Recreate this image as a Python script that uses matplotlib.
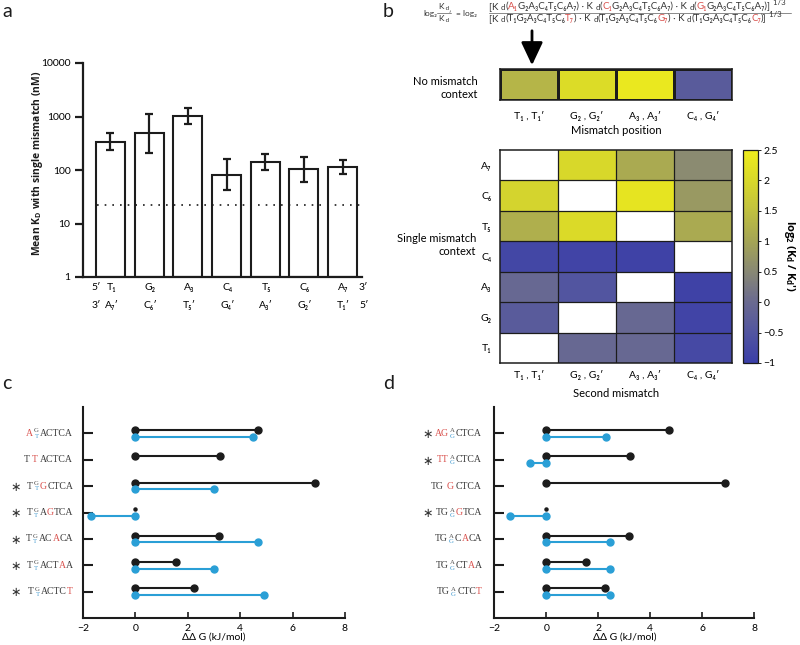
import numpy as np
import matplotlib
matplotlib.use('Agg')
import matplotlib.pyplot as plt
from matplotlib.colors import LinearSegmentedColormap, Normalize
from matplotlib.transforms import IdentityTransform, blended_transform_factory
from matplotlib.patches import FancyArrowPatch
from matplotlib.lines import Line2D
from matplotlib.ticker import NullLocator

plt.rcParams['font.family'] = ['Lato', 'DejaVu Sans']
plt.rcParams['mathtext.fontset'] = 'custom'
plt.rcParams['mathtext.rm'] = 'Open Sans'
plt.rcParams['mathtext.bf'] = 'Open Sans:bold'
plt.rcParams['mathtext.it'] = 'Open Sans:italic'

# ---------------- data ----------------
# panel a
pos_top = ['T₁', 'G₂', 'A₃', 'C₄', 'T₅', 'C₆', 'A₇']
pos_bot = ['A₇′', 'C₆′', 'T₅′', 'G₄′', 'A₃′', 'G₂′', 'T₁′']
kd_mean = [338, 485, 1035, 81, 141, 103, 113]
kd_upper = [500, 1100, 1450, 158, 196, 172, 154]
kd_lower = [237, 210, 724, 42, 100, 60, 85]
kd_ref = 22
a_yticks = [1, 10, 100, 1000, 10000]

# panel b
col_labels = ['T₁ , T₁′', 'G₂ , G₂′', 'A₃ , A₃′', 'C₄ , G₄′']
row_labels = ['A₇', 'C₆', 'T₅', 'C₄', 'A₃', 'G₂', 'T₁']
no_mismatch = [1.3, 2.1, 2.4, -0.35]
nan = np.nan
pair_vals = [
    [nan, 2.0, 1.1, 0.55],
    [1.9, nan, 2.3, 0.8],
    [1.2, 2.05, nan, 1.1],
    [-0.8, -0.85, -0.9, nan],
    [-0.05, -0.5, nan, -0.9],
    [-0.35, nan, -0.05, -0.85],
    [nan, -0.05, -0.05, -0.75],
]
cb_ticks = [-1, -0.5, 0, 0.5, 1, 1.5, 2, 2.5]
cb_ticklabels = ['−1', '−0.5', '0', '0.5', '1', '1.5', '2', '2.5']

# panel c / d
c_black = [4.69, 3.23, 6.86, 0.0, 3.19, 1.54, 2.24]
c_blue = [4.49, nan, 3.01, -1.71, 4.67, 3.0, 4.9]
d_black = [4.7, 3.23, 6.87, 0.0, 3.18, 1.54, 2.27]
d_blue = [2.31, -0.61, nan, -1.40, 2.44, 2.44, 2.44]
c_star = [False, False, True, True, True, True, True]
d_star = [True, True, False, True, False, False, False]
R, K, B = 'r', 'k', 'b'
c_seqs = [
    [('A', R), ('S', 'G', 'T'), ('ACTCA', K)],
    [('T', K), ('gap',), ('T', R), ('gap',), ('ACTCA', K)],
    [('T', K), ('S', 'G', 'T'), ('G', R), ('CTCA', K)],
    [('T', K), ('S', 'G', 'T'), ('A', K), ('G', R), ('TCA', K)],
    [('T', K), ('S', 'G', 'T'), ('AC', K), ('A', R), ('CA', K)],
    [('T', K), ('S', 'G', 'T'), ('ACT', K), ('A', R), ('A', K)],
    [('T', K), ('S', 'G', 'T'), ('ACTC', K), ('T', R)],
]
d_seqs = [
    [('AG', R), ('S', 'A', 'G'), ('CTCA', K)],
    [('TT', R), ('S', 'A', 'G'), ('CTCA', K)],
    [('TG', K), ('gap',), ('G', R), ('gap',), ('CTCA', K)],
    [('TG', K), ('S', 'A', 'G'), ('G', R), ('TCA', K)],
    [('TG', K), ('S', 'A', 'G'), ('C', K), ('A', R), ('CA', K)],
    [('TG', K), ('S', 'A', 'G'), ('CT', K), ('A', R), ('A', K)],
    [('TG', K), ('S', 'A', 'G'), ('CTC', K), ('T', R)],
]

# ---------------- styling ----------------
W, H = 800, 645
INK = '#1c1c1c'
TXT_COL = {'r': '#d9504c', 'k': '#3a3a3a', 'b': '#4b9fd2'}
BLUE = '#2a9fd6'
BOLDFAM = ['Open Sans', 'DejaVu Sans']
fig = plt.figure(figsize=(W / 100, H / 100), dpi=100)
renderer = fig.canvas.get_renderer()
IT = IdentityTransform()


def fr(x0, y0, x1, y1):
    return [x0 / W, 1 - y1 / H, (x1 - x0) / W, (y1 - y0) / H]


# panel letters
for lab, x, y in [('a', 2, 17), ('b', 383, 17), ('c', 2, 389), ('d', 383, 389)]:
    fig.text(x / W, 1 - y / H, lab, fontsize=14, va='baseline', ha='left', color=INK)

# ---------------- panel a ----------------
axa = fig.add_axes(fr(83, 63, 362, 277))
xa = np.arange(len(kd_mean))
km = np.array(kd_mean, float)
axa.bar(xa, km - 1, bottom=1, width=0.75, color='white', edgecolor=INK, linewidth=1.5, zorder=2)
yerr = [km - np.array(kd_lower), np.array(kd_upper) - km]
axa.errorbar(xa, km, yerr=yerr, fmt='none', ecolor=INK, elinewidth=1.6, capsize=3, capthick=1.6, zorder=3)
axa.plot([-0.35, 6.5], [kd_ref, kd_ref], color=INK, ls=(0, (1, 3.6)), lw=1.2, zorder=4)
axa.set_yscale('log')
axa.set_ylim(1, 10000)
axa.set_xlim(-0.711, 6.504)
axa.set_yticks(a_yticks)
axa.set_yticklabels([str(v) for v in a_yticks])
axa.yaxis.set_minor_locator(NullLocator())
axa.set_xticks([])
for s in ['top', 'right']:
    axa.spines[s].set_visible(False)
for s in ['left', 'bottom']:
    axa.spines[s].set_linewidth(1.6)
    axa.spines[s].set_color(INK)
axa.tick_params(axis='y', length=6, width=1.6, labelsize=7.5, direction='out', pad=3, color=INK)
ta = axa.get_xaxis_transform()
for i in range(7):
    axa.text(i + 0.03, -0.047, pos_top[i], ha='center', va='center', transform=ta, fontsize=7.5)
    axa.text(i + 0.03, -0.131, pos_bot[i], ha='center', va='center', transform=ta, fontsize=7.5)
axa.text(-0.375, -0.047, '5′', ha='center', va='center', transform=ta, fontsize=7.5)
axa.text(6.53, -0.047, '3′', ha='center', va='center', transform=ta, fontsize=7.5)
axa.text(-0.375, -0.131, '3′', ha='center', va='center', transform=ta, fontsize=7.5)
axa.text(6.56, -0.131, '5′', ha='center', va='center', transform=ta, fontsize=7.5)
fig.text(38 / W, 1 - 163 / H, r'Mean K$_\mathbf{D}$ with single mismatch (nM)', rotation=90,
         ha='center', va='center', fontsize=7.5, fontweight='bold', color=INK, family=BOLDFAM)

# ---------------- panel b ----------------
cmap = LinearSegmentedColormap.from_list('by', [
    (0.0, '#3a3ea8'), (0.5 / 3.5, '#5255a0'), (1.0 / 3.5, '#6a6a90'), (1.5 / 3.5, '#888874'),
    (2.0 / 3.5, '#a4a455'), (2.5 / 3.5, '#c0c040'), (3.0 / 3.5, '#d8d82a'), (1.0, '#eeec1c')])
norm = Normalize(-1, 2.5)


def run(x_px, y_px, pieces, fs):
    x = x_px
    made = []
    for txt, col, scale, dy in pieces:
        t = fig.text(x, H - y_px - dy, txt, color=col, fontsize=fs * scale, ha='left',
                     va='baseline', transform=IT)
        made.append(t)
        x = t.get_window_extent(renderer).x1
    return x, made


red = TXT_COL['r']
gk = '#333333'
num = [('[K ', gk, 1, 0), ('d', gk, 0.8, 1.5), ('(', gk, 1, 0), ('A₁', red, 1, 0), ('G₂A₃C₄T₅C₆A₇) · K ', gk, 1, 0),
       ('d', gk, 0.8, 1.5), ('(', gk, 1, 0), ('C₁', red, 1, 0), ('G₂A₃C₄T₅C₆A₇) · K ', gk, 1, 0),
       ('d', gk, 0.8, 1.5), ('(', gk, 1, 0), ('G₁', red, 1, 0), ('G₂A₃C₄T₅C₆A₇)]', gk, 1, 0), (' 1/3', gk, 0.8, -4)]
den = [('[K ', gk, 1, 0), ('d', gk, 0.8, 1.5), ('(T₁G₂A₃C₄T₅C₆', gk, 1, 0), ('T₇', red, 1, 0), (') · K ', gk, 1, 0),
       ('d', gk, 0.8, 1.5), ('(T₁G₂A₃C₄T₅C₆', gk, 1, 0), ('G₇', red, 1, 0), (') · K ', gk, 1, 0),
       ('d', gk, 0.8, 1.5), ('(T₁G₂A₃C₄T₅C₆', gk, 1, 0), ('C₇', red, 1, 0), (')]', gk, 1, 0), (' 1/3', gk, 0.8, -4)]
# fit the numerator to the width seen in the reference
x_end, made = run(489, 9, num, 5.0)
for t in made:
    t.remove()
FS = 5.0 * (791 - 489) / (x_end - 489)
run(489, 9, num, FS)
run(489, 21, den, FS)
fig.add_artist(Line2D([489 / W, 791 / W], [1 - 12.5 / H] * 2, transform=fig.transFigure, lw=0.4, color=gk))

FL = FS * 0.85
run(423, 16, [('log₂', gk, 1.0, 0)], FL)
run(438, 9, [('K', gk, 1.0, 0), (' d', gk, 0.75, 1.5)], FL)
run(438, 21, [('K', gk, 1.0, 0), (' d', gk, 0.75, 1.5), ('′', gk, 0.8, -4)], FL)
fig.add_artist(Line2D([437 / W, 451 / W], [1 - 12.5 / H] * 2, transform=fig.transFigure, lw=0.4, color=gk))
run(456, 16, [('= log₂', gk, 1.0, 0)], FL)

arrow = FancyArrowPatch((532 / W, 1 - 28 / H), (532 / W, 1 - 68 / H), transform=fig.transFigure,
                        arrowstyle='-|>,head_length=0.7,head_width=0.33', mutation_scale=20,
                        lw=2, color='black')
fig.add_artist(arrow)

# no-mismatch row
axs = fig.add_axes(fr(500, 69, 732, 100))
axs.pcolormesh(np.array([no_mismatch]), cmap=cmap, norm=norm, edgecolors=INK, linewidth=0.9)
axs.set_xlim(0, 4)
axs.set_ylim(0, 1)
axs.set_xticks([])
axs.set_yticks([])
for s in axs.spines.values():
    s.set_linewidth(1.1)
    s.set_color(INK)
ts = axs.get_xaxis_transform()
for i, lab in enumerate(col_labels):
    axs.text(i + 0.5, -0.53, lab, ha='center', va='center', transform=ts, fontsize=7.5)
axs.text(2.0, -1.0, 'Mismatch position', ha='center', va='center', transform=ts, fontsize=8)
fig.text(478 / W, 1 - 88 / H, 'No mismatch\ncontext', ha='right', va='center', multialignment='right',
         fontsize=8, linespacing=1.25)

# pair heatmap
axh = fig.add_axes(fr(500, 150, 732, 363))
pv = np.ma.masked_invalid(np.array(pair_vals, float))
im = axh.pcolormesh(pv, cmap=cmap, norm=norm)
axh.set_xlim(0, 4)
axh.set_ylim(7, 0)
axh.set_facecolor('white')
for i in range(1, 4):
    axh.axvline(i, color=INK, lw=0.9)
for j in range(1, 7):
    axh.axhline(j, color=INK, lw=0.9)
for s in axh.spines.values():
    s.set_linewidth(1.1)
    s.set_color(INK)
axh.set_xticks([])
axh.set_yticks(np.arange(7) + 0.5)
axh.set_yticklabels(row_labels, fontsize=7.5)
axh.tick_params(axis='y', length=0, pad=6)
th = axh.get_xaxis_transform()
for i, lab in enumerate(col_labels):
    axh.text(i + 0.5, -0.056, lab, ha='center', va='center', transform=th, fontsize=7.5)
axh.text(2.0, -0.141, 'Second mismatch', ha='center', va='center', transform=th, fontsize=8)
fig.text(476 / W, 1 - 245 / H, 'Single mismatch\ncontext', ha='right', va='center', multialignment='right',
         fontsize=8, linespacing=1.2)

cax = fig.add_axes(fr(743, 150, 758, 363))
cb = fig.colorbar(im, cax=cax, ticks=cb_ticks)
cb.set_ticklabels(cb_ticklabels)
cb.outline.set_linewidth(0.9)
cb.outline.set_edgecolor(INK)
cax.tick_params(labelsize=7.5, length=2, width=0.6, pad=2)
fig.text(790 / W, 1 - 256 / H, r'log$_\mathbf{2}$ (K$_\mathbf{d}$ / K$_\mathbf{d}$′)', rotation=270,
         ha='center', va='center', fontsize=8, fontweight='bold', family=BOLDFAM)

# ---------------- panels c, d ----------------
SERIF = ['Liberation Serif', 'DejaVu Serif']


def seq_label(ax, row, x_right, pieces, fs=7):
    tr = blended_transform_factory(IT, ax.transData)
    x = x_right
    for p in reversed(pieces):
        if p[0] == 'gap':
            x -= 2.5
        elif p[0] == 'S':
            _, top, bot = p
            sfs = fs * 0.7
            t1 = ax.text(x, row, top, color='#555555', fontsize=sfs, ha='center',
                         va='bottom', transform=tr, family=SERIF)
            t2 = ax.text(x, row + 0.01, bot, color=TXT_COL['b'], fontsize=sfs, ha='center',
                         va='top', transform=tr, family=SERIF)
            w = max(t1.get_window_extent(renderer).width, t2.get_window_extent(renderer).width)
            xc = x - 1.2 - w / 2
            t1.set_x(xc)
            t2.set_x(xc)
            x = x - 1.2 - w - 1.2
        else:
            txt, col = p
            t = ax.text(x, row, txt, color=TXT_COL[col], fontsize=fs, ha='right', va='center',
                        transform=tr, family=SERIF)
            x = t.get_window_extent(renderer).x0


def dd_panel(rect, black, blue, seqs, stars, x_right, x_star):
    ax = fig.add_axes(rect)
    ax.set_xlim(-2, 8)
    ax.set_ylim(8, 0)
    rows = np.arange(1, 8)
    for r, b, c in zip(rows, black, blue):
        if b == 0:
            ax.plot([0], [r - 0.13], 'o', ms=2.2, color=INK, zorder=3)
        else:
            ax.plot([0, b], [r - 0.125] * 2, '-o', color=INK, lw=1.5, ms=5, zorder=3)
        if not np.isnan(c):
            ax.plot([0, c], [r + 0.125] * 2, '-o', color=BLUE, lw=1.5, ms=5, zorder=3)
    ax.set_yticks(rows)
    ax.set_yticklabels([])
    ax.set_xticks([-2, 0, 2, 4, 6, 8])
    ax.set_xticklabels(['−2', '0', '2', '4', '6', '8'])
    ax.tick_params(axis='y', direction='in', length=7, width=1.5, color=INK)
    ax.tick_params(axis='x', direction='in', length=4, width=1.2, labelsize=7.5, pad=4, color=INK)
    ax.set_xlabel('ΔΔ G (kJ/mol)', fontsize=7.5, labelpad=0)
    for s in ['top', 'right']:
        ax.spines[s].set_visible(False)
    for s in ['left', 'bottom']:
        ax.spines[s].set_linewidth(1.5)
        ax.spines[s].set_color(INK)
    trs = blended_transform_factory(IT, ax.transData)
    for r, seq, st in zip(rows, seqs, stars):
        seq_label(ax, r, x_right, seq)
        if st:
            ax.text(x_star, r + 0.05, '∗', fontsize=9, ha='center', va='center', transform=trs,
                    color='#333333', family=['DejaVu Sans'])
    return ax


dd_panel(fr(83, 407, 345, 618), c_black, c_blue, c_seqs, c_star, 73, 16)
dd_panel(fr(494.3, 407, 754.3, 618), d_black, d_blue, d_seqs, d_star, 482, 428)

fig.savefig('out.png', dpi=100)
